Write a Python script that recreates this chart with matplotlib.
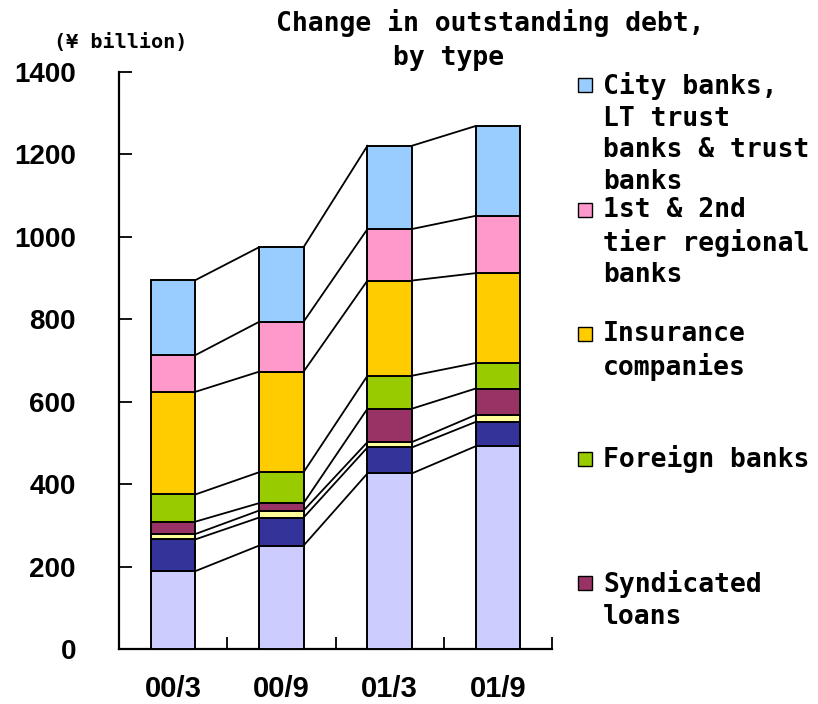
import numpy as np
import matplotlib.pyplot as plt
from matplotlib.patches import Rectangle

# Outstanding debt by lender type (¥ billion), bottom to top of each stack
periods = ['00/3', '00/9', '01/3', '01/9']
other = [189, 251, 426, 492]
bonds = [77, 68, 63, 59]
misc = [13, 17, 13, 17]
syndicated = [30, 18, 81, 64]
foreign = [66, 75, 80, 62]
insurance = [249, 244, 231, 218]
regional = [89, 121, 125, 139]
city = [182, 181, 202, 218]

series = [other, bonds, misc, syndicated, foreign, insurance, regional, city]
colors = ['#CCCCFF', '#333399', '#FFFF99', '#993366', '#99CC00',
          '#FFCC00', '#FF99CC', '#99CCFF']

legend_labels = ['City banks,\nLT trust\nbanks & trust\nbanks',
                 '1st & 2nd\ntier regional\nbanks',
                 'Insurance\ncompanies',
                 'Foreign banks',
                 'Syndicated\nloans']
legend_colors = ['#99CCFF', '#FF99CC', '#FFCC00', '#99CC00', '#993366']

mono = 'DejaVu Sans Mono'
sans = 'Liberation Sans'

fig = plt.figure(figsize=(8.18, 7.04), dpi=100)
ax = fig.add_axes([0.1455, 0.0781, 0.5293, 0.8196])

x = np.arange(len(periods))
width = 0.41
bottom = np.zeros(len(periods))
for vals, col in zip(series, colors):
    ax.bar(x, vals, width, bottom=bottom, color=col, edgecolor='black',
           linewidth=1.4, zorder=3)
    bottom = bottom + np.array(vals)
    # connector lines between neighbouring stacks at each segment top
    for i in range(len(periods) - 1):
        ax.plot([x[i] + width / 2, x[i + 1] - width / 2],
                [bottom[i], bottom[i + 1]], color='black', lw=1.3, zorder=2)

ax.set_xlim(-0.5, len(periods) - 0.5)
ax.set_ylim(0, 1400)
ax.set_yticks(range(0, 1401, 200))
ax.set_xticks(x)
ax.set_xticklabels(periods, fontfamily=sans, fontweight='bold', fontsize=21)
ax.set_xticks(np.arange(-0.5, len(periods)), minor=True)
ax.tick_params(axis='x', which='major', length=0, pad=19)
ax.tick_params(axis='x', which='minor', direction='in', length=9, width=1.3)
ax.tick_params(axis='y', direction='in', length=9, width=1.3, pad=31)
for lab in ax.get_yticklabels():
    lab.set_fontfamily(sans)
    lab.set_fontweight('bold')
    lab.set_fontsize(20)

for side in ['top', 'right']:
    ax.spines[side].set_visible(False)
for side in ['left', 'bottom']:
    ax.spines[side].set_linewidth(1.6)

fig.text(0.148, 0.940, '(¥ billion)', family=mono, fontweight='bold',
         fontsize=14.5, ha='center', va='center')
fig.text(0.599, 0.967, 'Change in outstanding debt,', family=mono,
         fontweight='bold', fontsize=19, ha='center', va='center')
fig.text(0.548, 0.918, 'by type', family=mono, fontweight='bold',
         fontsize=19, ha='center', va='center')

# legend drawn as evenly spaced slots down the right side
for k, (lab, col) in enumerate(zip(legend_labels, legend_colors)):
    ypix = 85 + 124.5 * k
    yf = 1 - ypix / 704
    fig.patches.append(Rectangle((578 / 818, yf - 7 / 704), 14 / 818, 14 / 704,
                                 transform=fig.transFigure, facecolor=col,
                                 edgecolor='black', linewidth=1.0))
    fig.text(603 / 818, yf + 13 / 704, lab, family=mono, fontweight='bold',
             fontsize=19, ha='left', va='top', linespacing=1.28)

fig.savefig('out.png', dpi=100)
